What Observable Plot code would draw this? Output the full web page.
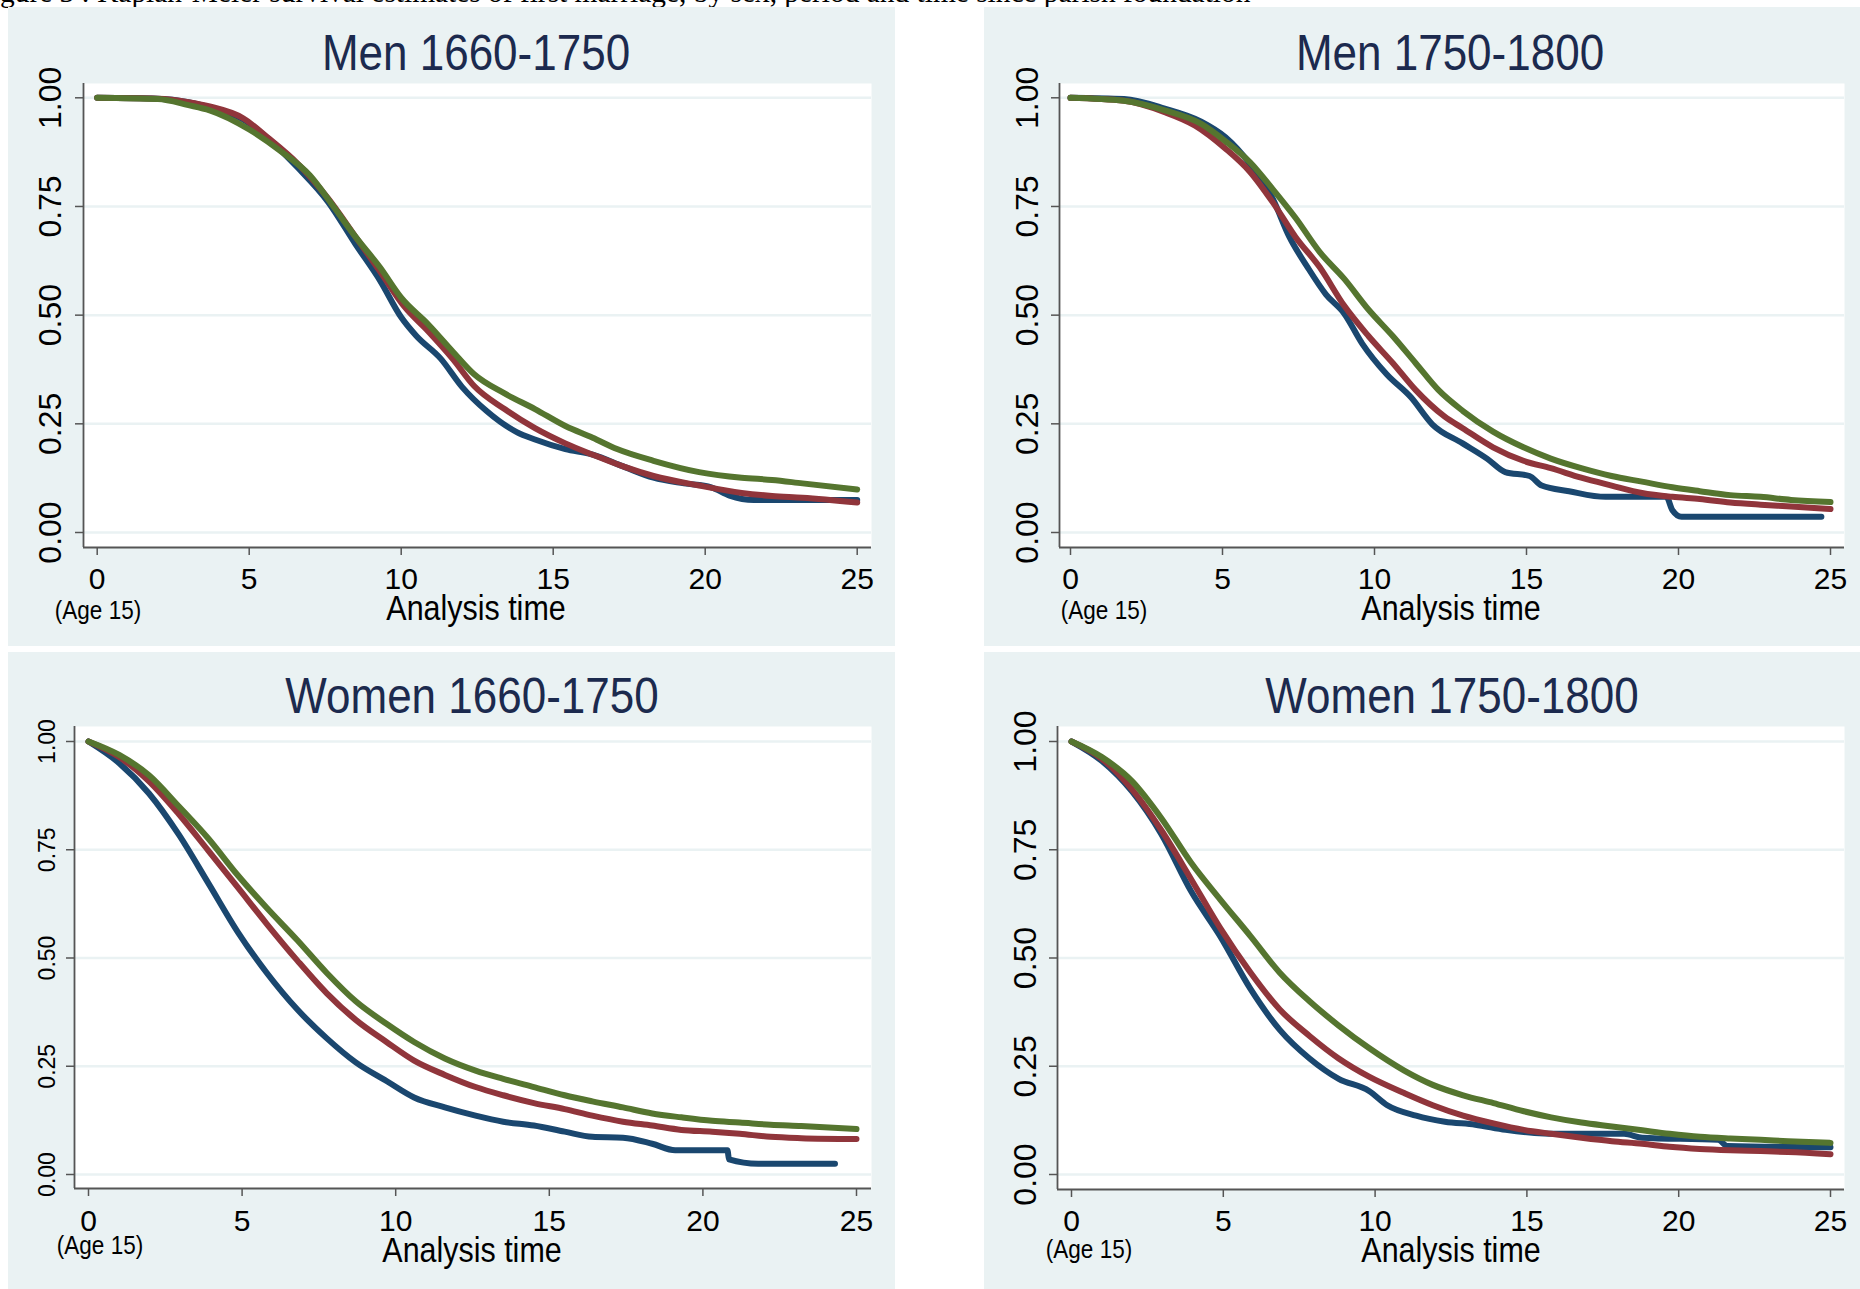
<!DOCTYPE html>
<html><head><meta charset="utf-8">
<script src="https://cdn.jsdelivr.net/npm/d3@7"></script>
<script src="https://cdn.jsdelivr.net/npm/@observablehq/plot@0.6"></script>
<style>
body{margin:0;background:#fff;}
#root{position:relative;width:1860px;height:1289px;overflow:hidden;font-family:"Liberation Sans",Arial,sans-serif;}
.bg{position:absolute;background:#eaf2f3;}
.lbl{position:absolute;white-space:nowrap;line-height:1;}
</style></head><body><div id="root"></div>
<script>
// ---- text ----
const captionText = "Figure 3 : Kaplan-Meier survival estimates of first marriage, by sex, period and time since parish foundation";
const panelTitles = ["Men 1660-1750", "Men 1750-1800", "Women 1660-1750", "Women 1750-1800"];
const xAxisTitle = "Analysis time";
const originNote = "(Age 15)";
const xTicks = [0, 5, 10, 15, 20, 25];
const yTicks = [0, 0.25, 0.5, 0.75, 1];
const seriesColors = ["#1a476f", "#90353b", "#55752f"]; // navy, maroon, forest green

// ---- data: [analysis time, survival] ----
const men1660Blue = [[0,1],[2,0.998],[3,0.99],[3.7,0.978],[4.8,0.95],[5.8,0.895],[6.6,0.839],[7.6,0.76],[8.5,0.663],[9.3,0.58],[10,0.495],[10.5,0.452],[11.3,0.40],[12,0.335],[12.8,0.28],[13.8,0.231],[14.4,0.214],[15.4,0.192],[16.3,0.179],[17.3,0.152],[18.3,0.126],[19.3,0.113],[20.2,0.104],[20.8,0.085],[21.6,0.075],[25,0.075]];
const men1660Red = [[0,1],[2,0.998],[3,0.99],[3.7,0.98],[4.8,0.953],[5.6,0.909],[6.6,0.848],[7.6,0.768],[8.5,0.68],[9.3,0.601],[10.1,0.52],[10.9,0.462],[11.7,0.399],[12.4,0.337],[13.4,0.284],[14.4,0.24],[15.4,0.205],[16.3,0.179],[17.3,0.152],[18.3,0.13],[19.8,0.108],[21.2,0.091],[22.2,0.084],[23.2,0.08],[25,0.069]];
const men1660Green = [[0,1],[2,0.997],[3,0.983],[3.7,0.971],[5,0.927],[6,0.879],[7,0.821],[7.76,0.751],[8.5,0.68],[9.3,0.61],[10,0.54],[10.9,0.478],[11.7,0.416],[12.4,0.364],[13.4,0.32],[14.4,0.284],[15.4,0.245],[16.3,0.218],[17.1,0.192],[18.3,0.165],[19.8,0.139],[21.2,0.126],[22.2,0.121],[23.2,0.113],[25,0.099]];

const men1750Blue = [[0,1],[1.76,0.997],[3.1,0.975],[4.3,0.945],[5.1,0.909],[5.9,0.848],[6.65,0.768],[7.2,0.68],[7.8,0.61],[8.4,0.548],[9.0,0.504],[9.6,0.434],[10.4,0.364],[11.2,0.311],[11.9,0.249],[12.9,0.205],[13.7,0.17],[14.3,0.139],[15.1,0.13],[15.5,0.108],[16.4,0.095],[17.6,0.082],[19.6,0.082],[19.8,0.051],[20.1,0.036],[24.7,0.036]];
const men1750Red = [[0,1],[1.76,0.993],[3.1,0.967],[4.1,0.936],[5.1,0.883],[5.9,0.83],[6.65,0.76],[7.4,0.68],[8.2,0.61],[9.0,0.522],[9.8,0.452],[10.6,0.39],[11.35,0.328],[12.3,0.267],[12.9,0.24],[13.9,0.196],[14.9,0.165],[15.8,0.148],[16.8,0.126],[17.8,0.108],[18.8,0.091],[19.8,0.082],[20.7,0.077],[21.7,0.069],[22.7,0.064],[23.7,0.06],[25,0.054]];
const men1750Green = [[0,1],[1.76,0.993],[3.1,0.971],[4.3,0.94],[5.1,0.90],[5.9,0.852],[6.65,0.79],[7.4,0.724],[8.2,0.645],[9.0,0.584],[9.8,0.513],[10.6,0.452],[11.35,0.39],[12.1,0.328],[12.9,0.28],[13.9,0.232],[14.9,0.196],[15.8,0.17],[16.8,0.148],[17.8,0.13],[18.8,0.117],[19.8,0.104],[20.7,0.095],[21.7,0.086],[22.7,0.082],[23.7,0.075],[25,0.07]];

const women1660Blue = [[0,1],[1,0.95],[1.97,0.88],[2.93,0.786],[3.9,0.673],[4.86,0.56],[5.8,0.466],[6.8,0.381],[7.75,0.315],[8.7,0.259],[9.7,0.216],[10.6,0.178],[11.6,0.155],[12.6,0.136],[13.5,0.122],[14.5,0.113],[15.5,0.099],[16.4,0.087],[17.4,0.085],[18.35,0.071],[19.1,0.056],[20.8,0.056],[20.85,0.035],[21.8,0.025],[24.3,0.025]];
const women1660Red = [[0,1],[1,0.964],[1.97,0.908],[2.93,0.833],[3.9,0.748],[4.86,0.663],[5.8,0.579],[6.8,0.494],[7.75,0.419],[8.7,0.357],[9.7,0.306],[10.6,0.263],[11.6,0.23],[12.6,0.202],[13.5,0.183],[14.5,0.165],[15.5,0.151],[16.4,0.136],[17.4,0.122],[18.35,0.113],[19.3,0.103],[20.3,0.099],[21.2,0.094],[22.2,0.087],[23.2,0.084],[25,0.082]];
const women1660Green = [[0,1],[1,0.969],[1.97,0.922],[2.93,0.851],[3.9,0.776],[4.86,0.691],[5.8,0.616],[6.8,0.541],[7.75,0.466],[8.7,0.40],[9.7,0.348],[10.6,0.306],[11.6,0.268],[12.6,0.24],[13.5,0.221],[14.5,0.202],[15.5,0.183],[16.4,0.169],[17.4,0.155],[18.35,0.141],[19.3,0.132],[20.3,0.124],[21.2,0.12],[22.2,0.115],[23.2,0.112],[25,0.105]];

const women1750Blue = [[0,1],[1,0.955],[2,0.884],[2.96,0.786],[3.94,0.654],[4.9,0.55],[5.9,0.428],[6.86,0.334],[7.84,0.268],[8.8,0.221],[9.8,0.193],[10.4,0.16],[11.35,0.136],[12.3,0.122],[13.3,0.115],[14.3,0.103],[15.25,0.096],[16.2,0.094],[18.2,0.094],[18.8,0.085],[21.3,0.08],[21.6,0.066],[25,0.063]];
const women1750Red = [[0,1],[1,0.96],[2,0.889],[2.96,0.795],[3.94,0.682],[4.9,0.569],[5.9,0.466],[6.86,0.381],[7.84,0.32],[8.8,0.268],[9.8,0.226],[10.96,0.188],[11.9,0.16],[12.9,0.136],[13.9,0.118],[14.9,0.103],[15.8,0.094],[16.8,0.085],[17.8,0.077],[18.8,0.071],[19.7,0.064],[20.7,0.059],[21.7,0.056],[22.7,0.054],[23.6,0.052],[25,0.047]];
const women1750Green = [[0,1],[1,0.964],[2,0.908],[2.96,0.823],[3.94,0.72],[4.9,0.635],[5.9,0.55],[6.86,0.466],[7.84,0.40],[8.8,0.344],[9.8,0.292],[10.96,0.24],[11.9,0.207],[12.9,0.183],[13.9,0.165],[14.9,0.146],[15.8,0.132],[16.8,0.12],[17.8,0.111],[18.8,0.102],[19.7,0.094],[20.7,0.087],[21.7,0.083],[22.7,0.08],[23.6,0.077],[25,0.073]];

// ---- layout (page pixels) ----
const panels = [
  {title: panelTitles[0], series: [men1660Blue, men1660Red, men1660Green],
   bg: [8, 7, 887, 639], L: 83, R: 871, T: 83, B: 547, x0: 96.7, x25: 856.7, y1: 97.3, y0: 532,
   titleXY: [476, 53], yLabX: 50, yFont: 32, xLabY: 578.6, ageXY: [98, 610], atXY: [476, 607]},
  {title: panelTitles[1], series: [men1750Blue, men1750Red, men1750Green],
   bg: [984, 7, 876, 639], L: 1059, R: 1844, T: 83, B: 547, x0: 1070, x25: 1830, y1: 97.3, y0: 532,
   titleXY: [1450, 53], yLabX: 1027, yFont: 32, xLabY: 578.6, ageXY: [1104, 610], atXY: [1451, 607]},
  {title: panelTitles[2], series: [women1660Blue, women1660Red, women1660Green],
   bg: [8, 652, 887, 637], L: 74, R: 871, T: 726, B: 1188, x0: 88, x25: 856, y1: 741, y0: 1174,
   titleXY: [472, 696], yLabX: 47, yFont: 23, xLabY: 1220.5, ageXY: [100, 1245], atXY: [472, 1249]},
  {title: panelTitles[3], series: [women1750Blue, women1750Red, women1750Green],
   bg: [984, 652, 876, 637], L: 1057, R: 1844, T: 726, B: 1189, x0: 1071, x25: 1830, y1: 741, y0: 1174,
   titleXY: [1452, 696], yLabX: 1025, yFont: 32, xLabY: 1220.5, ageXY: [1089, 1249], atXY: [1451, 1249]}
];

const root = document.getElementById("root");
function addLabel(text, x, y, css) {
  const d = document.createElement("div");
  d.className = "lbl";
  d.textContent = text;
  Object.assign(d.style, css);
  d.style.left = x + "px";
  d.style.top = y + "px";
  root.appendChild(d);
  return d;
}

// caption (cut off at the page top as in the source)
addLabel(captionText, -24.5, -22, {fontFamily: '"Liberation Serif","Times New Roman",serif', fontSize: "29.4px", color: "#000"});

for (const p of panels) {
  const bg = document.createElement("div");
  bg.className = "bg";
  Object.assign(bg.style, {left: p.bg[0] + "px", top: p.bg[1] + "px", width: p.bg[2] + "px", height: p.bg[3] + "px"});
  root.appendChild(bg);
}

for (const p of panels) {
  const mL = 80, mR = 10, mT = 10, mB = 60;
  const width = (p.R - p.L) + mL + mR;
  const height = (p.B - p.T) + mT + mB;
  const insetLeft = p.x0 - p.L, insetRight = p.R - p.x25, insetTop = p.y1 - p.T, insetBottom = p.B - p.y0;
  const marks = [
    Plot.frame({fill: "white", stroke: null}),
    Plot.gridY(yTicks, {stroke: "#eaf2f3", strokeOpacity: 1, strokeWidth: 2.5}),
    Plot.axisY(yTicks, {tickSize: 8, stroke: "#555", strokeWidth: 1.5, tickFormat: () => "", label: null}),
    Plot.axisX(xTicks, {tickSize: 8, stroke: "#555", strokeWidth: 1.5, tickFormat: () => "", label: null}),
    Plot.text(yTicks, {y: d => d, frameAnchor: "left", dx: p.yLabX - p.L, text: d => d.toFixed(2), rotate: -90,
      fontSize: p.yFont, textAnchor: "middle", lineAnchor: "middle", fill: "#000"}),
    Plot.text(xTicks, {x: d => d, frameAnchor: "bottom", dy: p.xLabY - p.B, text: d => String(d),
      fontSize: 30, textAnchor: "middle", lineAnchor: "middle", fill: "#000"})
  ];
  p.series.forEach((s, i) => {
    marks.push(Plot.line(s, {x: d => d[0], y: d => d[1], stroke: seriesColors[i], strokeWidth: 6,
      curve: "monotone-x", strokeLinecap: "round", strokeLinejoin: "round"}));
  });
  marks.push(Plot.ruleX([0], {dx: -insetLeft, stroke: "#555", strokeWidth: 1.8}));
  marks.push(Plot.ruleY([0], {dy: insetBottom, stroke: "#555", strokeWidth: 1.8}));

  const svg = Plot.plot({
    width, height, marginLeft: mL, marginRight: mR, marginTop: mT, marginBottom: mB,
    x: {domain: [0, 25], insetLeft, insetRight},
    y: {domain: [0, 1], insetTop, insetBottom},
    marks
  });
  Object.assign(svg.style, {position: "absolute", left: (p.L - mL) + "px", top: (p.T - mT) + "px",
    background: "transparent", overflow: "visible", maxWidth: "none",
    fontFamily: '"Liberation Sans",Arial,sans-serif'});
  root.appendChild(svg);

  addLabel(p.title, p.titleXY[0], p.titleXY[1], {fontSize: "50px", color: "#1c2a4e",
    transform: "translate(-50%,-50%) scaleX(0.88)"});
  addLabel(xAxisTitle, p.atXY[0], p.atXY[1], {fontSize: "35px", color: "#000",
    transform: "translate(-50%,-50%) scaleX(0.87)"});
  addLabel(originNote, p.ageXY[0], p.ageXY[1], {fontSize: "25px", color: "#000",
    transform: "translate(-50%,-50%) scaleX(0.9)"});
}
</script></body></html>
